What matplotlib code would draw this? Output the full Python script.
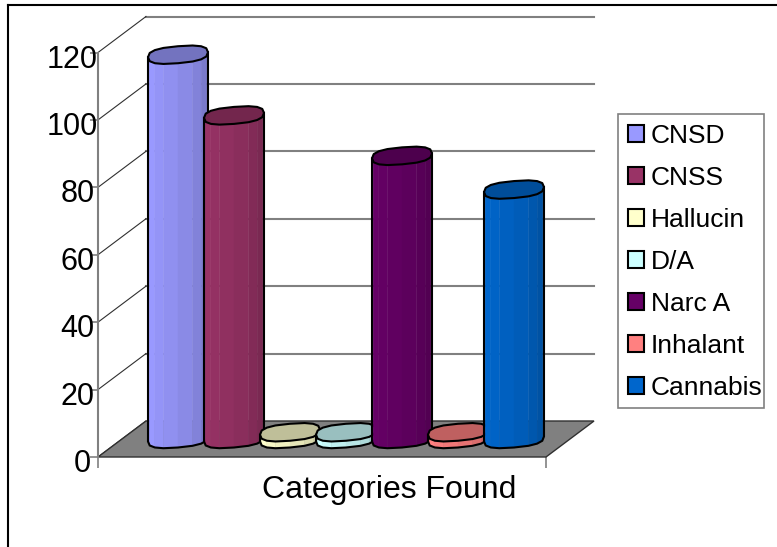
import numpy as np
import matplotlib
matplotlib.use("Agg")
import matplotlib.pyplot as plt
from matplotlib.patches import Patch, Polygon, Rectangle
from matplotlib.transforms import ScaledTranslation

plt.rcParams['font.family'] = ['Liberation Sans', 'DejaVu Sans']

# Данные
categories = ['CNSD', 'CNSS', 'Hallucin', 'D/A', 'Narc A', 'Inhalant', 'Cannabis']
values = [114, 96, 2, 2, 84, 2, 74]
colors = ['#9999FF', '#993366', '#FFFFCC', '#CCFFFF', '#660066', '#FF8080', '#0066CC']
y_ticks = [0, 20, 40, 60, 80, 100, 120]

W, H = 777, 547
X0, X1 = 98, 546      # передняя плоскость, пиксели
Y0, Y120 = 457, 52.5
PX_X = (X1 - X0) / 8
PX_Y = (Y0 - Y120) / 120
DX = 48 / PX_X        # глубина в единицах данных
DY = 36 / PX_Y
RX = 30 / PX_X        # полуоси цилиндра
RY = 8.5 / PX_Y
TILT = 2.5 / PX_Y / RX
FACETS = [0.95, 1.0, 0.97, 0.94, 0.9, 0.85, 0.8, 0.75]


def shade(color, k):
    rgb = np.array(matplotlib.colors.to_rgb(color))
    return tuple(np.clip(rgb * k, 0, 1))


def rim(t, p=0.75):
    # слегка "квадратный" эллипс, как у граненого цилиндра
    c, s = np.cos(t), np.sin(t)
    return np.sign(c) * np.abs(c) ** p, np.sign(s) * np.abs(s) ** p


def cylinder(ax, x, value, color, z):
    # цилиндр из граней, основание на середине глубины
    cx = x + DX / 2
    c, s = rim(np.linspace(np.pi, 2 * np.pi, 9))
    ex = cx + RX * c
    ey = RY * s + TILT * (ex - cx)
    y_base = DY / 2
    y_top = value + DY / 2
    for i in range(8):
        pts = [(ex[i], y_base + ey[i]), (ex[i + 1], y_base + ey[i + 1]),
               (ex[i + 1], y_top + ey[i + 1]), (ex[i], y_top + ey[i])]
        ax.add_patch(Polygon(pts, closed=True, fc=shade(color, FACETS[i]), ec=shade(color, FACETS[i]),
                             lw=0.3, zorder=z, clip_on=False))
    # контур тела
    outline = list(zip(ex, y_base + ey)) + [(ex[-1], y_top + ey[-1]), (ex[0], y_top + ey[0])]
    ax.add_patch(Polygon(outline, closed=True, fc='none', ec='black', lw=1.5,
                         zorder=z + 0.1, clip_on=False))
    # верхняя крышка
    c2, s2 = rim(np.linspace(0, 2 * np.pi, 17)[:-1])
    tx = cx + RX * c2
    ty = y_top + RY * s2 + TILT * (tx - cx)
    ax.add_patch(Polygon(list(zip(tx, ty)), closed=True, fc=shade(color, 0.75), ec='black',
                         lw=1.5, joinstyle='round', zorder=z + 0.2, clip_on=False))


fig = plt.figure(figsize=(W / 100, H / 100), dpi=100)
ax = fig.add_axes([X0 / W, 1 - Y0 / H, (X1 - X0) / W, (Y0 - Y120) / H])
ax.set_xlim(0, 8)
ax.set_ylim(0, 120)
ax.patch.set_visible(False)
for side in ['top', 'right', 'bottom']:
    ax.spines[side].set_visible(False)
ax.spines['left'].set_color('#808080')
ax.spines['left'].set_linewidth(1.5)

# рамка диаграммы
fig.add_artist(plt.Line2D([8 / W, 8 / W], [0, 1 - 5 / H], color='black', lw=1.5))
fig.add_artist(plt.Line2D([8 / W, 1], [1 - 5 / H, 1 - 5 / H], color='black', lw=1.5))

# сетка: задняя стенка и диагонали на боковой
for v in y_ticks[1:]:
    ax.plot([DX, 8 + DX], [v + DY, v + DY], color='#808080', lw=1.5, clip_on=False, zorder=1)
for v in y_ticks:
    ax.plot([0, DX], [v, v + DY], color='#303030', lw=0.8, clip_on=False, zorder=1)

# пол
floor = [(0, 0), (8, 0), (8 + DX, DY), (DX, DY)]
ax.add_patch(Polygon(floor, closed=True, fc='#808080', ec='#303030', lw=1.0, clip_on=False, zorder=2))

for n, (val, col) in enumerate(zip(values, colors)):
    cylinder(ax, n + 1, val, col, 3 + n)

ax.set_yticks(y_ticks)
ax.set_yticklabels([str(v) for v in y_ticks], fontsize=22, va='center_baseline')
ax.tick_params(axis='y', length=6, width=1.2, color='#808080', pad=-6)
for lab, v in zip(ax.get_yticklabels(), y_ticks):
    # короткие подписи в оригинале стоят левее
    dx = -(3 - len(str(v))) * 3.5 / 100
    lab.set_zorder(20)
    lab.set_transform(lab.get_transform() + ScaledTranslation(dx, -3.5 / 100, fig.dpi_scale_trans))
ax.set_xticks([0, 8])
ax.set_xticklabels(['', ''])
ax.tick_params(axis='x', length=8, width=1.2, color='#808080')

fig.text(389 / W, 1 - 490 / H, 'Categories Found', fontsize=23, ha='center', va='center')

# рамка легенды отдельно: отступы в оригинале несимметричны
fig.add_artist(Rectangle((618 / W, 1 - 408 / H), 146 / W, 294 / H, transform=fig.transFigure,
                         fc='white', ec='#808080', lw=1.2))
handles = [Patch(fc=c, ec='black', lw=1.5) for c in colors]
leg = fig.legend(handles, categories, loc='upper left',
                 bbox_to_anchor=(628 / W, 1 - 124 / H), borderaxespad=0,
                 fontsize=19, frameon=False,
                 handlelength=0.62, handleheight=0.62, handletextpad=0.25,
                 labelspacing=0.68, borderpad=0)

fig.savefig('out.png', dpi=100)
